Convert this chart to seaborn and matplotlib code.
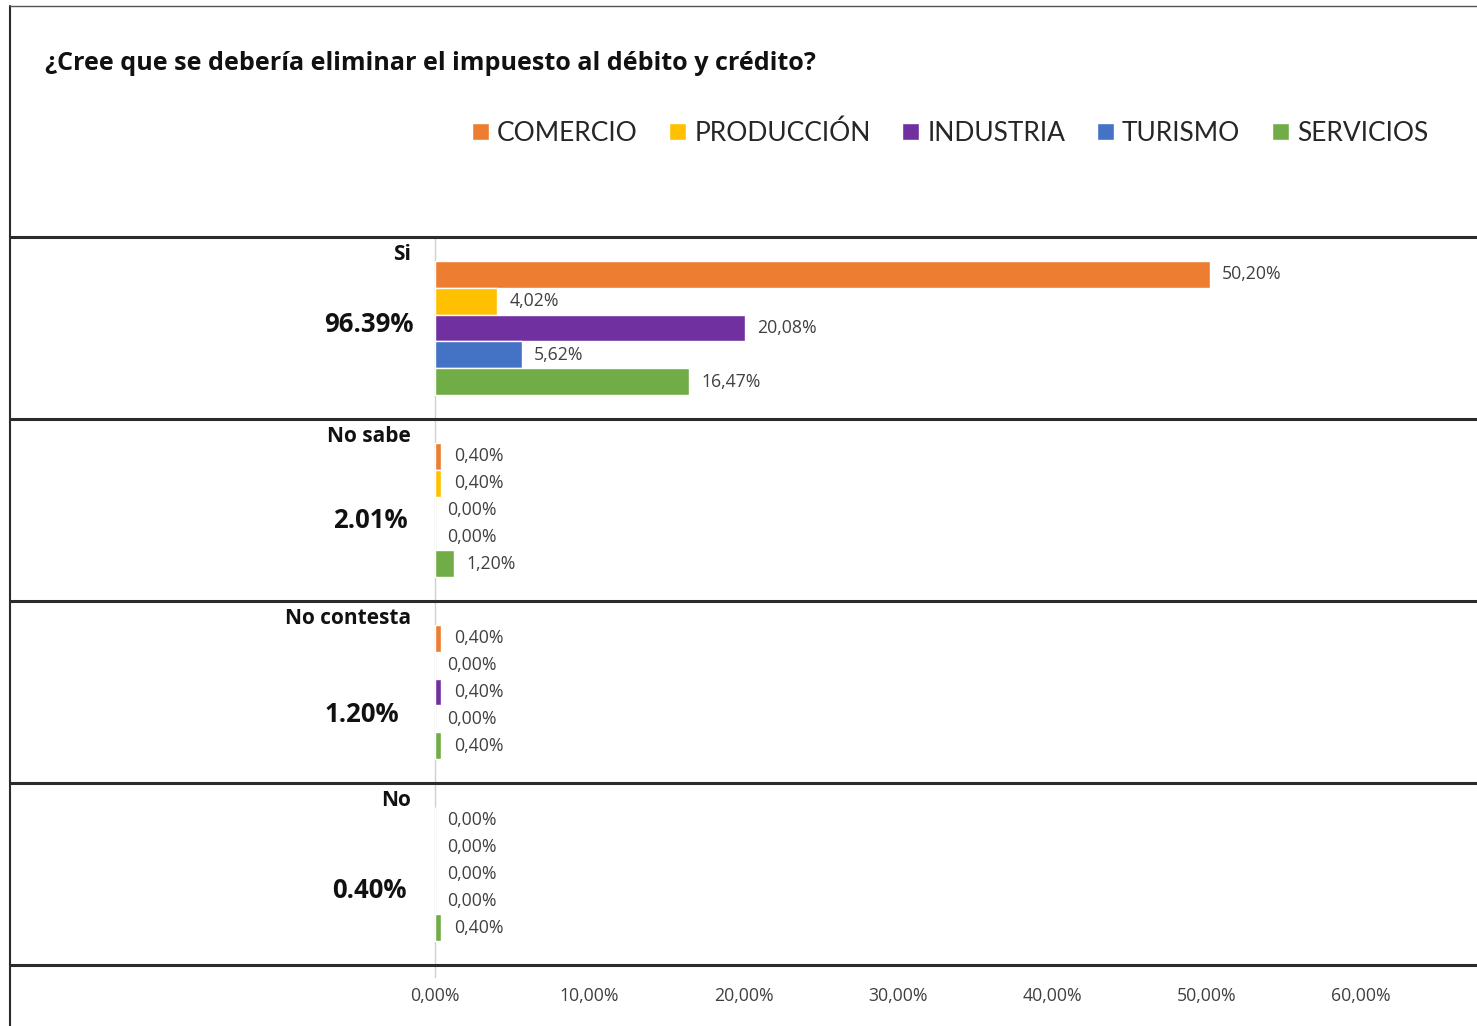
import numpy as np
import pandas as pd
import matplotlib
matplotlib.use("Agg")
import matplotlib.pyplot as plt
from matplotlib.ticker import FixedLocator, FuncFormatter
import seaborn as sns

# ---------------- data ----------------
title = "¿Cree que se debería eliminar el impuesto al débito y crédito?"
groups = ["Si", "No sabe", "No contesta", "No"]
totals = ["96.39%", "2.01%", "1.20%", "0.40%"]
sectors = ["COMERCIO", "PRODUCCIÓN", "INDUSTRIA", "TURISMO", "SERVICIOS"]
comercio = [50.20, 0.40, 0.40, 0.00]
produccion = [4.02, 0.40, 0.00, 0.00]
industria = [20.08, 0.00, 0.40, 0.00]
turismo = [5.62, 0.00, 0.00, 0.00]
servicios = [16.47, 1.20, 0.40, 0.40]
xticks = [0, 10, 20, 30, 40, 50, 60]

colors = ["#ED7D31", "#FFC000", "#7030A0", "#4472C4", "#70AD47"]

series = [comercio, produccion, industria, turismo, servicios]
rows = []
for s, vals in zip(sectors, series):
    for g, v in zip(groups, vals):
        rows.append({"grupo": g, "sector": s, "valor": v})
df = pd.DataFrame(rows)

# ---------------- figure ----------------
sns.set_theme(style="white")
plt.rcParams["font.family"] = ["Open Sans", "DejaVu Sans"]
LEG_FONT = ["Lato", "DejaVu Sans"]

W, H = 1477, 1026
fig = plt.figure(figsize=(W / 100, H / 100), dpi=100)

x0_px, x_end_px = 10, 1477
zero_px, sixty_px = 435, 1361
top_px, bot_px = 237, 965
px_per_unit = (sixty_px - zero_px) / 60.0

ax = fig.add_axes([x0_px / W, 1 - bot_px / H, (x_end_px - x0_px) / W, (bot_px - top_px) / H])

sns.barplot(data=df, y="grupo", x="valor", hue="sector", hue_order=sectors,
            order=groups, palette=colors, orient="h", width=0.74,
            saturation=1, errorbar=None, ax=ax)

ax.set_xlim(-(zero_px - x0_px) / px_per_unit, (x_end_px - zero_px) / px_per_unit)
ax.set_ylim(len(groups) - 0.5, -0.5)

for sp in ax.spines.values():
    sp.set_visible(False)

# value labels
for cont in ax.containers:
    labels = [f"{b.get_width():.2f}%".replace(".", ",") for b in cont]
    ax.bar_label(cont, labels=labels, padding=9, fontsize=12.7, color="#404040")

# axis ticks
ax.xaxis.set_major_locator(FixedLocator(xticks))
ax.xaxis.set_major_formatter(FuncFormatter(lambda v, p: f"{v:.2f}%".replace(".", ",")))
ax.tick_params(axis="x", length=0, pad=16, labelsize=12.7, labelcolor="#404040")
ax.set_yticks([])
ax.set_xlabel("")
ax.set_ylabel("")

# separator lines and zero line
ax.axvline(0, ymin=-0.017, ymax=1, color="#d0d0d0", lw=1, zorder=0, clip_on=False)
for yy in np.arange(-0.5, len(groups), 1.0):
    ax.axhline(yy, color="#2b2b2b", lw=2.2, clip_on=False, zorder=5)

# left labels
lab_x = (411 - zero_px) / px_per_unit
name_offsets = [17, 18, 18, 18]
total_offsets = [-4, 10, 23, 17]
total_right = [414, 408, 399, 407]
for i, (g, t) in enumerate(zip(groups, totals)):
    ax.text(lab_x, i - 0.5 + name_offsets[i] / 182, g, ha="right", va="center",
            fontsize=15, fontweight="bold", color="#111111")
    ax.text((total_right[i] - zero_px) / px_per_unit, i + total_offsets[i] / 182, t,
            ha="right", va="center", fontsize=18.5, fontweight="bold", color="#111111")

# legend
handles, labels = ax.get_legend_handles_labels()
if ax.get_legend() is not None:
    ax.get_legend().remove()
fig.legend(handles, labels, loc="center", bbox_to_anchor=(950 / W, 1 - 133 / H),
           ncol=5, frameon=False, prop={"family": LEG_FONT, "size": 19},
           handlelength=0.65, handleheight=0.65,
           handletextpad=0.3, columnspacing=1.2, borderpad=0)

# title
fig.text(45 / W, 1 - 63 / H, title, ha="left", va="center",
         fontsize=18.1, fontweight="bold", color="#111111")

# outer frame
fig.add_artist(plt.Line2D([x0_px / W, x0_px / W], [0, 1 - 6 / H],
                          transform=fig.transFigure, color="#2b2b2b", lw=1.5))
fig.add_artist(plt.Line2D([x0_px / W, 1], [1 - 6 / H, 1 - 6 / H],
                          transform=fig.transFigure, color="#555555", lw=1.0))

fig.savefig("out.png", dpi=100, facecolor="white")
